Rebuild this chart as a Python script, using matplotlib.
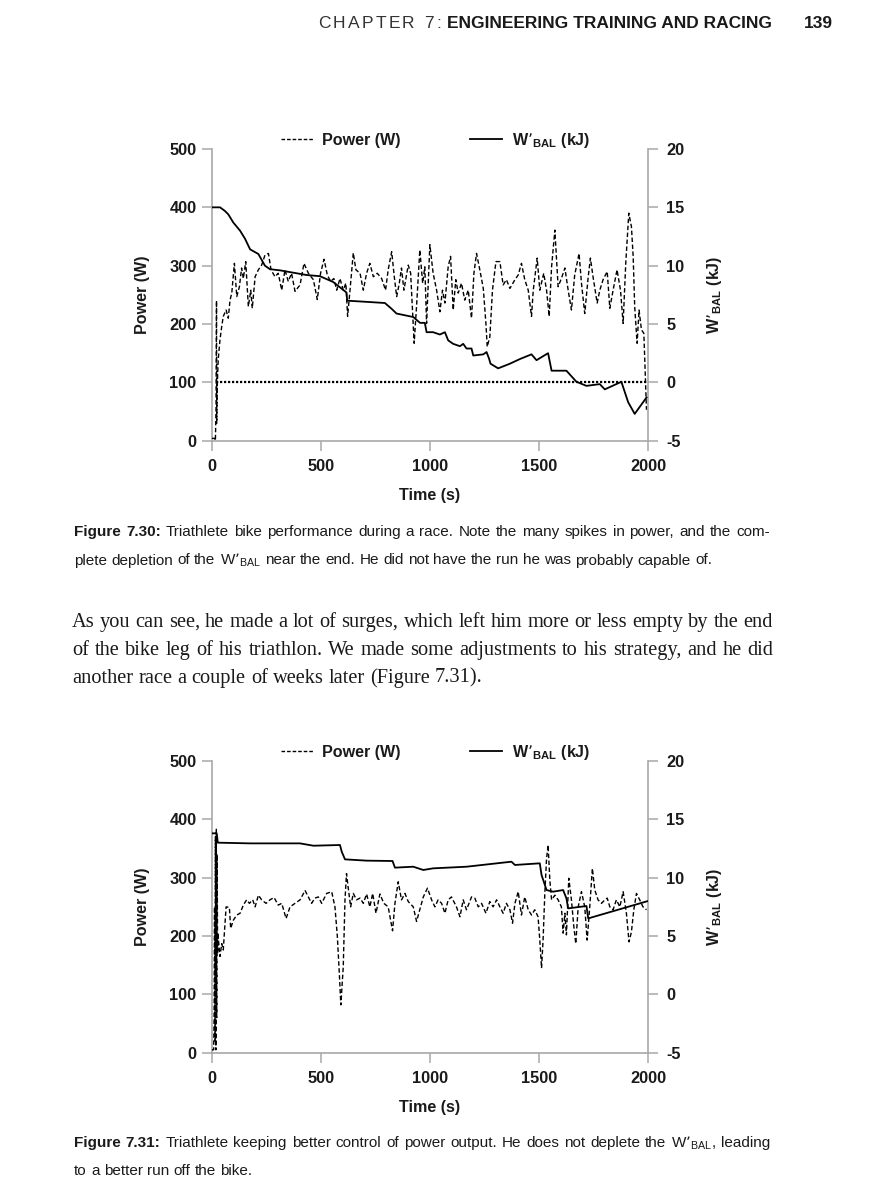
import matplotlib
matplotlib.use("Agg")
import matplotlib.pyplot as plt
from matplotlib.lines import Line2D

plt.rcParams["axes.unicode_minus"] = False

# ---------------- data ----------------
xticks = [0, 500, 1000, 1500, 2000]
power_ticks = [0, 100, 200, 300, 400, 500]
wbal_ticks = [-5, 0, 5, 10, 15, 20]

# Figure 7.30 (top)
top_time_power = [0, 14, 17, 20, 22, 23, 26, 30, 38, 46, 53, 66, 76, 84, 92, 104, 115, 127, 137, 145,
                  156, 168, 179, 186, 199, 214, 229, 244, 260, 272, 290, 305, 321, 336, 351, 366, 382,
                  405, 423, 443, 466, 484, 499, 515, 530, 545, 560, 573, 588, 603, 615, 623, 634, 649,
                  661, 680, 695, 710, 725, 741, 759, 779, 797, 809, 825, 837, 848, 860, 870, 881, 901,
                  912, 928, 939, 954, 967, 977, 985, 1000, 1015, 1031, 1046, 1058, 1069, 1084, 1095,
                  1107, 1119, 1130, 1145, 1160, 1176, 1191, 1202, 1214, 1229, 1245, 1257, 1263, 1275,
                  1287, 1303, 1321, 1336, 1351, 1367, 1390, 1405, 1420, 1435, 1451, 1466, 1474, 1492,
                  1504, 1522, 1535, 1547, 1558, 1573, 1588, 1603, 1619, 1634, 1649, 1664, 1684, 1695,
                  1710, 1726, 1736, 1748, 1767, 1779, 1794, 1813, 1825, 1840, 1858, 1874, 1886, 1898,
                  1912, 1924, 1932, 1939, 1950, 1959, 1970, 1981, 1993]
top_power = [4, 4, 0, 60, 240, 30, 100, 140, 173, 196, 213, 224, 210, 241, 253, 304, 247, 264, 296, 278,
             307, 230, 258, 227, 281, 293, 301, 318, 321, 293, 281, 287, 258, 293, 273, 287, 256,
             267, 304, 287, 276, 242, 287, 311, 284, 273, 278, 258, 278, 258, 270, 213, 258, 322,
             293, 287, 258, 287, 304, 281, 287, 278, 258, 293, 324, 281, 247, 270, 296, 258, 301,
             287, 167, 230, 327, 270, 298, 201, 336, 287, 258, 221, 258, 236, 298, 316,
             224, 276, 253, 270, 241, 258, 210, 287, 321, 293, 261, 201, 161, 178,
             258, 307, 307, 267, 276, 261, 276, 284, 304, 276, 258, 213, 258, 313,
             258, 287, 258, 213, 298, 361, 264, 278, 296, 258, 224, 284, 321, 270,
             218, 281, 313, 281, 236, 258, 276, 290, 227, 258, 293, 258, 201, 304,
             390, 367, 316, 230, 167, 224, 190, 184, 53]
top_time_wbal = [0, 38, 60, 76, 99, 130, 153, 176, 214, 244, 267, 313, 374, 435, 496, 557, 618, 621,
                 710, 794, 825, 847, 924, 955, 977, 985, 1015, 1046, 1069, 1084, 1107, 1138, 1153,
                 1168, 1191, 1199, 1245, 1260, 1272, 1278, 1313,
                 1367, 1413, 1466, 1489, 1542, 1558, 1626, 1672, 1718, 1779, 1802, 1878, 1909, 1939,
                 1993]
top_wbal = [15, 15, 14.7, 14.4, 13.7, 13.0, 12.3, 11.4, 11.0, 10.0, 9.7, 9.6, 9.4, 9.2, 9.1, 8.6, 7.7, 7.0,
            6.9, 6.8, 6.3, 5.9, 5.6, 5.1, 5.1, 4.3, 4.3, 4.1, 4.3, 3.6, 3.3, 3.1, 3.3,
            2.9, 2.9, 2.3, 2.4, 2.6, 2.0, 1.6, 1.2,
            1.6, 2.0, 2.4, 1.9, 2.5, 1.0, 1.0, 0.05, -0.3, -0.15, -0.6, 0.05, -1.7, -2.7,
            -1.3]
top_ref_level_kj = 0
top_ref_start = 20

# Figure 7.31 (bottom)
bot_time_power = [0, 9, 11, 13, 15, 17, 19, 21, 23, 25, 27, 29, 31, 38, 46, 53, 66, 81, 87, 99, 115, 130,
                  145, 160, 173, 188, 199, 214, 229, 249, 267, 286, 305, 321, 341, 359, 382, 405, 428,
                  443, 458, 473, 489, 504, 527, 550, 565, 576, 585, 592, 603, 611, 618, 626, 637, 649,
                  664, 680, 695, 710, 725, 738, 753, 771, 789, 809, 829, 840, 855, 870, 886, 901, 924,
                  939, 954, 970, 989, 1008, 1023, 1038, 1054, 1069, 1084, 1099, 1122, 1138, 1153, 1168,
                  1191, 1206, 1222, 1237, 1257, 1275, 1290, 1306, 1321, 1336, 1351, 1367, 1379, 1390,
                  1405, 1420, 1435, 1451, 1466, 1481, 1496, 1504, 1512, 1519, 1527, 1535, 1542, 1550,
                  1558, 1573, 1588, 1603, 1611, 1619, 1626, 1637, 1649, 1660, 1669, 1680, 1695, 1710,
                  1721, 1733, 1745, 1756, 1771, 1787, 1802, 1813, 1825, 1840, 1855, 1871, 1886, 1901,
                  1913, 1924, 1935, 1947, 1962, 1977, 1993]
bot_power = [5, 5, 60, 250, 20, 370, 5, 383, 60, 340, 170, 205, 193, 165, 187, 176, 250, 249, 213, 227, 236, 239,
             253, 262, 256, 262, 250, 270, 262, 256, 262, 266, 253, 256, 230, 250, 256, 262, 278,
             267, 256, 265, 267, 256, 273, 276, 250, 199, 136, 82, 147, 262, 307, 282, 250, 273,
             262, 265, 256, 272, 250, 273, 239, 272, 256, 250, 209, 256, 293, 262, 273, 259, 250,
             225, 245, 267, 282, 262, 250, 262, 256, 239, 262, 267, 250, 233, 262, 245,
             267, 265, 250, 256, 239, 259, 250, 262, 250, 239, 256, 245, 222, 256,
             276, 236, 267, 245, 236, 245, 233, 193, 145, 193, 273, 333, 356, 296,
             262, 270, 262, 250, 205, 239, 202, 299, 262, 216, 187, 250, 276, 250,
             193, 250, 316, 279, 262, 256, 262, 265, 250, 245, 262, 250, 276, 239,
             190, 207, 245, 273, 262, 250, 245]
bot_time_wbal = [0, 23, 28, 176, 405, 466, 588, 596, 611, 710, 829, 840, 924, 970, 1015, 1168, 1374,
                 1390, 1504, 1512, 1535, 1565, 1611, 1626, 1634, 1718, 1726, 2000]
bot_wbal = [13.8, 13.8, 13.0, 12.94, 12.94, 12.74, 12.8, 12.23, 11.57, 11.46, 11.43, 10.86, 10.94, 10.66,
            10.8, 10.94, 11.37, 11.09, 11.23, 10.23, 8.94, 8.8, 8.94, 8.23, 7.37, 7.57, 6.51, 8.0]

# ---------------- text ----------------
header_light = "CHAPTER 7:"
header_bold = "ENGINEERING TRAINING AND RACING"
page_number = "139"
WB = "W\u2019$_{\\mathregular{BAL}}$"
cap1_label = "Figure 7.30:"
cap1_line1 = "Triathlete bike performance during a race. Note the many spikes in power, and the com-"
cap1_line2 = "plete depletion of the " + WB + " near the end. He did not have the run he was probably capable of."
body_lines = ["As you can see, he made a lot of surges, which left him more or less empty by the end",
              "of the bike leg of his triathlon. We made some adjustments to his strategy, and he did",
              "another race a couple of weeks later (Figure 7.31)."]
cap2_label = "Figure 7.31:"
cap2_line1 = "Triathlete keeping better control of power output. He does not deplete the " + WB + ", leading"
cap2_line2 = "to a better run off the bike."

# ---------------- figure ----------------
W, H = 869, 1200
fig = plt.figure(figsize=(W / 100, H / 100), dpi=100)
fig.patch.set_facecolor("white")
renderer = fig.canvas.get_renderer()

SANS = "Liberation Sans"
SERIF = "Liberation Serif"
TXT = "#1a1a1a"
GRID = "#a8a8a8"
FS = 11.8


def fx(px):
    return px / W


def fy(py):
    return 1 - py / H


def make_chart(rect, tp, p, tw, wb, ref=None):
    ax = fig.add_axes(rect)
    ax2 = ax.twinx()
    ax.set_xlim(0, 2000)
    ax.set_ylim(0, 500)
    ax2.set_ylim(-5, 20)
    ax.plot(tp, p, color="black", lw=1.0, dashes=(3.2, 1.8), zorder=3)
    ax2.plot(tw, wb, color="black", lw=1.3, zorder=3)
    if ref is not None:
        ax2.hlines(ref[0], ref[1], 2000, colors="black", linestyles=(0, (1, 0.8)), lw=1.6)
    for a in (ax, ax2):
        a.spines["top"].set_visible(False)
        a.set_facecolor("none")
    ax.spines["right"].set_visible(False)
    for s in ("left", "bottom"):
        ax.spines[s].set_color(GRID)
        ax.spines[s].set_linewidth(1.2)
        ax2.spines[s].set_visible(False)
    ax2.spines["right"].set_color(GRID)
    ax2.spines["right"].set_linewidth(1.2)
    ax.set_xticks(xticks)
    ax.set_yticks(power_ticks)
    ax2.set_yticks(wbal_ticks)
    for a in (ax, ax2):
        a.tick_params(axis="both", direction="out", length=7, width=1.1, color=GRID,
                      labelsize=FS, labelcolor=TXT, pad=4)
    ax.tick_params(axis="x", pad=6)
    ax2.tick_params(axis="y", pad=6)
    for lab in ax.get_xticklabels() + ax.get_yticklabels() + ax2.get_yticklabels():
        lab.set_fontweight("bold")
        lab.set_fontfamily(SANS)
    ax.set_xlabel("Time (s)", fontsize=11.6, fontweight="bold", family=SANS, color=TXT, labelpad=10)
    ax.set_ylabel("Power (W)", fontsize=11.6, fontweight="bold", family=SANS, color=TXT, labelpad=14)
    ax2.set_ylabel(WB + " (kJ)", fontsize=11.6, fontweight="bold", family=SANS, color=TXT,
                   rotation=90, labelpad=15)
    handles = [Line2D([], [], color="black", lw=1.0, dashes=(2.6, 1.4)),
               Line2D([], [], color="black", lw=1.3)]
    leg = ax.legend(handles, ["Power (W)", WB + " (kJ)"], ncol=2, frameon=False,
                    loc="center", bbox_to_anchor=(0.513, 1.03), handlelength=2.0,
                    handletextpad=0.6, columnspacing=4.3,
                    prop={"family": SANS, "weight": "bold", "size": 11.6})
    for t in leg.get_texts():
        t.set_color(TXT)
    return ax, ax2


ax_left = fx(211.7)
ax_w = fx(648) - fx(211.7)
ax_h = (440.7 - 149) / H
make_chart([ax_left, fy(440.7), ax_w, ax_h], top_time_power, top_power, top_time_wbal, top_wbal,
           ref=(top_ref_level_kj, top_ref_start))
make_chart([ax_left, fy(1052.7), ax_w, ax_h], bot_time_power, bot_power, bot_time_wbal, bot_wbal)


# ---------------- text helpers ----------------
def width_of(txt, props):
    t = fig.text(0, 0, txt, **props)
    w = t.get_window_extent(renderer).width
    t.remove()
    return w


def place_line(pieces, x0, y, x1=None, size=11, space_scale=1.0):
    """pieces: list of (text, props). Words are placed individually; if x1 given the line is justified."""
    words = []
    for txt, props in pieces:
        for w in txt.split(" "):
            if w:
                p = dict(props)
                p["size"] = size
                words.append((w, p))
    widths = [width_of(w, p) for w, p in words]
    nat_space = (width_of("a a", words[0][1]) - width_of("aa", words[0][1])) * space_scale
    if x1 is not None and len(words) > 1:
        gap = (x1 - x0 - sum(widths)) / (len(words) - 1)
    else:
        gap = nat_space
    x = x0
    for (w, p), wd in zip(words, widths):
        fig.text(fx(x), fy(y), w, va="baseline", ha="left", **p)
        x += wd + gap


REG = {"family": SANS, "color": TXT}
BOLD = {"family": SANS, "color": TXT, "weight": "bold"}
SER = {"family": SERIF, "color": TXT}

# header
hsize = 12.5
x = 318.0
track = 2.3
for ch in header_light:
    fig.text(fx(x), fy(28), ch, va="baseline", ha="left", family=SANS, color="#333333", size=hsize)
    x += width_of(ch, {"family": SANS, "size": hsize}) + track
hb = {"family": SANS, "weight": "bold", "color": TXT}
bw = width_of(header_bold, dict(hb, size=hsize))
bsize = hsize * (772 - 447) / bw
fig.text(fx(447), fy(28), header_bold, va="baseline", ha="left", size=bsize, **hb)
fig.text(fx(833), fy(28), page_number, va="baseline", ha="right", size=bsize, **hb)

# captions
csize = 11.0
place_line([(cap1_label, BOLD), (cap1_line1, REG)], 74, 536.5, 770, size=csize)
place_line([(cap1_line2, REG)], 74, 564.5, None, size=csize)
place_line([(cap2_label, BOLD), (cap2_line1, REG)], 74, 1147, 770, size=csize)
place_line([(cap2_line2, REG)], 74, 1175, None, size=csize)

# body text
bsz = 14.7
place_line([(body_lines[0], SER)], 72, 626.7, 773, size=bsz)
place_line([(body_lines[1], SER)], 72, 655, 773, size=bsz)
place_line([(body_lines[2], SER)], 72, 682.7, None, size=bsz)

fig.savefig("out.png", dpi=100, facecolor="white")
